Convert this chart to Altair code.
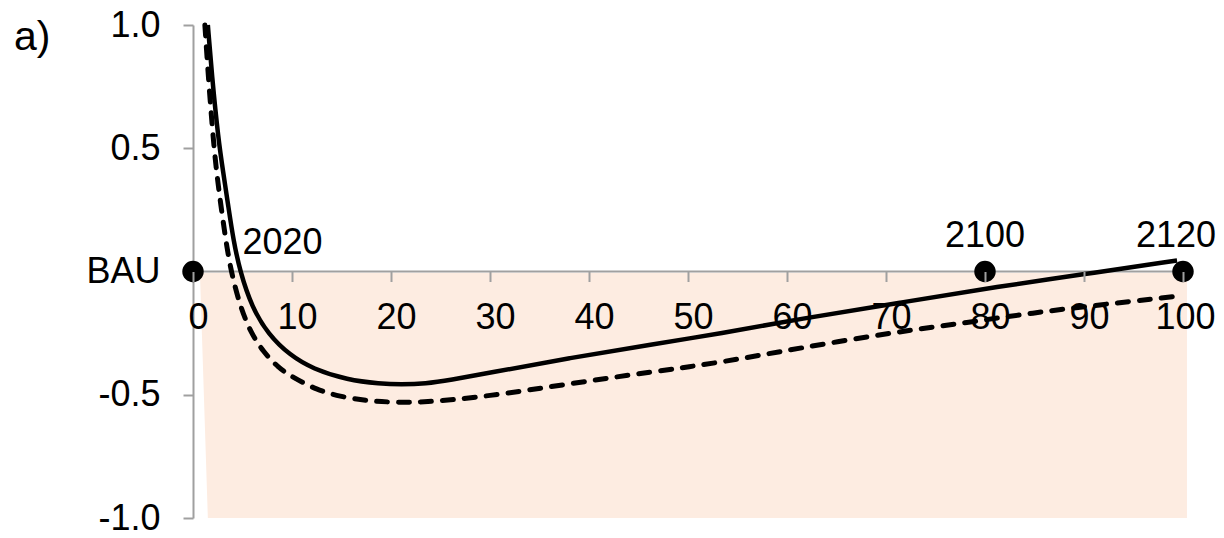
import altair as alt
import pandas as pd

# ---- data ----
solid_x = [1.5, 1.9, 2.56, 3.06, 3.57, 4.07, 4.75, 5.95, 7.6, 9.8, 12.1, 15.6, 18.9, 21.0, 23.5, 26.0,
           29.7, 38.1, 46.5, 53.2, 61.3, 71.4, 81.5, 89.9, 99.4]
solid_y = [1.0, 0.8, 0.535, 0.40, 0.264, 0.13, 0.0, -0.145, -0.255, -0.34, -0.395, -0.44, -0.455, -0.458, -0.455, -0.44,
           -0.413, -0.35, -0.295, -0.252, -0.192, -0.127, -0.060, -0.012, 0.045]

dash_x = [1.2, 1.6, 2.05, 2.39, 2.83, 3.30, 3.84, 4.75, 5.85, 7.1, 8.6, 10.1, 12.5, 14.8, 17.6, 19.9, 23.2,
          29.7, 38.1, 46.5, 53.2, 61.3, 71.4, 78.2, 84.8, 91.6, 98.4, 99.4]
dash_y = [1.0, 0.76, 0.535, 0.40, 0.264, 0.13, 0.0, -0.14, -0.25, -0.325, -0.39, -0.43, -0.48, -0.507, -0.525, -0.53, -0.532,
          -0.507, -0.455, -0.406, -0.37, -0.31, -0.243, -0.207, -0.168, -0.135, -0.105, -0.10]

fill_y = [-0.005, -1.0]
fill_x_left = [0.7, 1.5]
fill_x_right = [100.4, 100.4]

dot_x = [0, 80, 100]
dot_y = [0, 0, 0]

year_x = [80, 99.3]
year_labels = ["2100", "2120"]
start_x = [5]
start_labels = ["2020"]

x_ticks = list(range(0, 101, 10))
y_ticks = [-1.0, -0.5, 0.0, 0.5, 1.0]

GRAY = "#A0A0A0"
FILL = "#FDECE1"
FS = 36

W, H = 990, 493

x_scale = alt.Scale(domain=[0, 100], nice=False, zero=False)
y_scale = alt.Scale(domain=[-1, 1], nice=False, zero=False)

x_axis = alt.Axis(values=x_ticks, tickSize=10, tickColor=GRAY, tickWidth=2, domain=False,
                  grid=False, labelFontSize=FS, labelColor="black", labelPadding=19,
                  labelOffset={"condition": {"test": "datum.value == 100", "value": 2}, "value": 5},
                  labelAngle=0, offset=-H / 2, zindex=1, title=None, labelFlush=False,
                  labelOverlap=False, format="d")
y_axis = alt.Axis(values=y_ticks, tickSize=10, tickColor=GRAY, tickWidth=2, domainColor=GRAY,
                  domainWidth=2, grid=False, labelFontSize=FS, labelColor="black", labelPadding=23,
                  labelExpr="datum.value == 0 ? 'BAU' : (datum.value < 0 ? '-' + format(-datum.value, '.1f') : format(datum.value, '.1f'))",
                  title=None, labelFlush=False, labelOverlap=False)


def X(field="x"):
    return alt.X(f"{field}:Q", scale=x_scale, axis=x_axis)


def Y(field="y"):
    return alt.Y(f"{field}:Q", scale=y_scale, axis=y_axis)


fill_df = pd.DataFrame({"y": fill_y, "x": fill_x_left, "x2": fill_x_right})
fill = alt.Chart(fill_df).mark_area(orient="horizontal", color=FILL, opacity=1).encode(
    y=Y(), x=X(), x2="x2:Q")

rule_df = pd.DataFrame({"x": [0], "x2": [100], "y": [0]})
rule = alt.Chart(rule_df).mark_rule(color=GRAY, strokeWidth=2).encode(x=X(), x2="x2:Q", y=Y())

solid_df = pd.DataFrame({"x": solid_x, "y": solid_y})
solid = alt.Chart(solid_df).mark_line(color="black", strokeWidth=4.5, interpolate="basis").encode(
    x=X(), y=Y())

dash_df = pd.DataFrame({"x": dash_x, "y": dash_y})
dashed = alt.Chart(dash_df).mark_line(color="black", strokeWidth=5, interpolate="basis",
                                      strokeDash=[11, 11], strokeCap="round").encode(x=X(), y=Y())

dot_df = pd.DataFrame({"x": dot_x, "y": dot_y})
dots = alt.Chart(dot_df).mark_circle(size=460, color="black", opacity=1).encode(x=X(), y=Y())

yr_df = pd.DataFrame({"x": year_x, "y": [0] * len(year_x), "t": year_labels})
years = alt.Chart(yr_df).mark_text(fontSize=FS, dy=-36, align="center", baseline="middle",
                                   color="black").encode(x=X(), y=Y(), text="t:N")

st_df = pd.DataFrame({"x": start_x, "y": [0], "t": start_labels})
start = alt.Chart(st_df).mark_text(fontSize=FS, dy=-29, align="left", baseline="middle",
                                   color="black").encode(x=X(), y=Y(), text="t:N")

panel_df = pd.DataFrame({"t": ["a)"]})
panel = alt.Chart(panel_df).mark_text(fontSize=41, align="left", baseline="alphabetic",
                                      color="black").encode(x=alt.value(-179), y=alt.value(25), text="t:N")

chart = alt.layer(fill, rule, solid, dashed, dots, years, start, panel).properties(
    width=W, height=H, autosize="none",
    padding={"left": 185, "top": 17, "right": 33, "bottom": 18},
).configure(font="Liberation Sans").configure_view(stroke=None)

chart.save("out.html", embed_options={"renderer": "svg", "actions": False})
